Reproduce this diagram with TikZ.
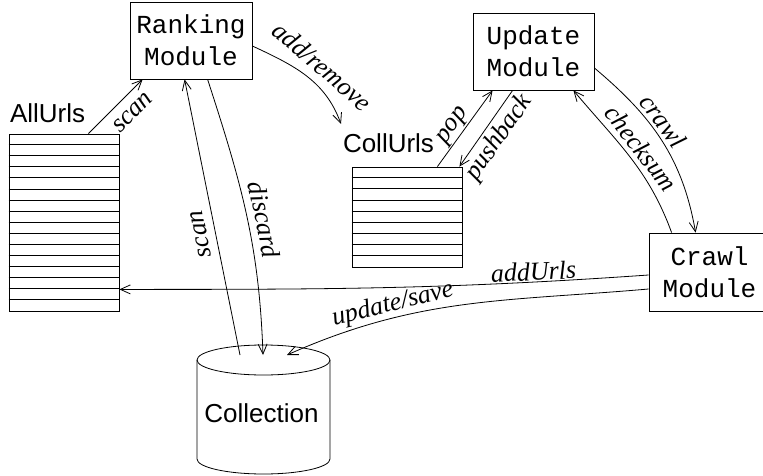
\documentclass[tikz,border=0pt]{standalone}
\usepackage{fontspec}
\setmainfont{Liberation Serif}
\newfontfamily\modfont{Liberation Mono}
\newfontfamily\helvfont{Liberation Sans}
\usetikzlibrary{arrows.meta}

\begin{document}
\begin{tikzpicture}[x=1pt,y=1pt,line width=0.8pt,
  module/.style={draw,minimum width=122pt,minimum height=77pt,inner sep=0pt,align=center,font=\fontsize{26}{32}\selectfont\modfont},
  queue/.style={draw,minimum width=110pt,inner sep=0pt},
  title/.style={font=\fontsize{26}{31}\selectfont\helvfont,inner sep=0pt},
  lab/.style={font=\fontsize{26}{31}\selectfont\itshape,inner sep=1pt},
  >={Straight Barb[length=10pt,width=9pt]}]
\useasboundingbox (0,0) rectangle (763,475);
\node[module] (rank) at (191,434.5) {Ranking\\Module};
\node[module,minimum width=121pt] (update) at (533.5,423.5) {Update\\Module};
\node[module,minimum width=121pt,minimum height=78pt] (crawl) at (709.5,203) {Crawl\\Module};
\node[queue,minimum height=177pt] (allurls) at (64,252.5) {};
\node[queue,minimum height=100pt] (collurls) at (407,258) {};
\foreach \i in {1,...,15}
  \draw ([yshift=-\i*11.06pt]allurls.north west) -- ([yshift=-\i*11.06pt]allurls.north east);
\foreach \i in {1,...,8}
  \draw ([yshift=-\i*11.11pt]collurls.north west) -- ([yshift=-\i*11.11pt]collurls.north east);
\node[title,anchor=base west] (allname) at ([shift={(1,11)}]allurls.north west) {AllUrls};
\node[title,anchor=base west] (collname) at ([shift={(-9,14)}]collurls.north west) {CollUrls};
\draw (263.5,115) ellipse [x radius=66.5,y radius=15];
\draw (197,115) -- (197,16) arc[start angle=180,end angle=360,x radius=66.5,y radius=15] -- (330,115);
\node[title] (coll) at (261.5,62) {Collection};
\coordinate (scanfoot) at (240,120);
\coordinate (discardtip) at (263,120);
\coordinate (savetip) at (287,120);
\coordinate (addtip) at (341,351);
\draw[->] ([xshift=-31]allurls.north east) -- node[lab,sloped,below=9pt,pos=.6] {scan} ([xshift=13]rank.south west);
\draw[->] ([yshift=-5.5]rank.east) to[out=-25,in=110] node[lab,sloped,above=7pt,pos=.55] {add/remove} (addtip);
\draw[->] ([xshift=-25]collurls.north east) -- node[lab,sloped,above,pos=.45] {pop} ([xshift=20]update.south west);
\draw[->] ([xshift=40]update.south west) -- node[lab,sloped,below=3pt] {pushback} ([xshift=-3]collurls.north east);
\draw[->] ([yshift=-16.5]update.east) to[out=-40,in=100] node[lab,sloped,above=2pt,pos=.42] {crawl} ([xshift=47]crawl.north west);
\draw[->] ([xshift=23]crawl.north west) to[out=110,in=-50] node[lab,sloped,above=4pt] {checksum} ([xshift=-21]update.south east);
\draw[->] ([yshift=-3]crawl.west) to[out=184,in=0] node[lab,sloped,above,pos=.2] {addUrls} ([yshift=22]allurls.south east);
\draw[->] ([yshift=-17]crawl.west) to[out=185,in=24] node[lab,sloped,above,pos=.7] {update/save} (savetip);
\draw[->,allow upside down] (scanfoot) -- node[lab,sloped,above=7pt,pos=.45] {scan} ([xshift=55]rank.south west);
\draw[->] ([xshift=78]rank.south west) to[out=-72,in=92] node[lab,sloped,above=6pt,pos=.53] {discard} (discardtip);
\end{tikzpicture}
\end{document}
